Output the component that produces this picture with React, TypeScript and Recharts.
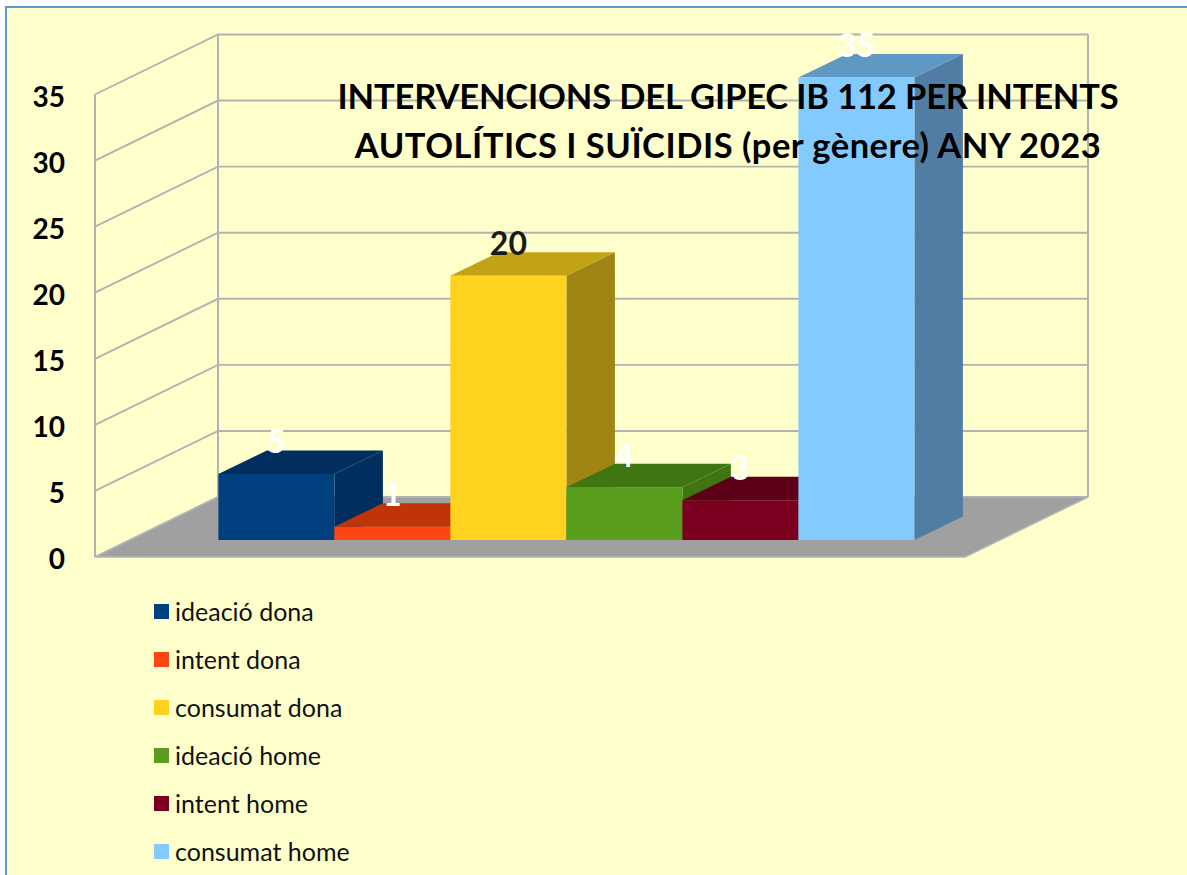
import React from 'react';
import { BarChart, Bar, XAxis, YAxis, CartesianGrid, Legend, ReferenceArea } from 'recharts';

const categories = ['2023'];
const seriesNames = ['ideació dona', 'intent dona', 'consumat dona', 'ideació home', 'intent home', 'consumat home'];
const seriesValues = [5, 1, 20, 4, 3, 35];
const yTicks = [0, 5, 10, 15, 20, 25, 30, 35];
const titleLines = ['INTERVENCIONS DEL GIPEC IB 112 PER INTENTS', 'AUTOLÍTICS I SUÏCIDIS (per gènere) ANY 2023'];
const titleSpacing = [-0.15, 0.5];

const frontColors = ['#00407F', '#FF4611', '#FFD220', '#589D1B', '#7B0020', '#83CAFF'];
const topColors = ['#002E5E', '#C03507', '#C3A316', '#3F7611', '#5E0018', '#5F98C2'];
const sideColors = ['#002E5E', '#C03507', '#A08515', '#3F7611', '#5E0018', '#527DA3'];
const labelColors = ['#FFFFFF', '#FFFFFF', '#1A1A1A', '#FFFFFF', '#FFFFFF', '#FFFFFF'];

const FONT = 'Lato, sans-serif';
const WALL = '#B2B2B2';
// perspective of the box: wall depth, and where the bars stand on the floor
const WALL_DX = 123;
const WALL_DY = -60;
const BAR_DX = 37;
const BAR_DY = -17;
const DEPTH_X = 48.5;
const DEPTH_Y = -23.5;

const chartData = categories.map((name) => {
  const row: Record<string, string | number> = { name };
  seriesNames.forEach((s, i) => {
    row[s] = seriesValues[i];
  });
  return row;
});

function WallLine(props: any) {
  const { x1, y1, x2, y2 } = props;
  return (
    <polyline
      points={`${x1},${y1} ${x1 + WALL_DX},${y1 + WALL_DY} ${x2 + WALL_DX},${y2 + WALL_DY}`}
      fill="none"
      stroke={WALL}
      strokeWidth={1.9}
    />
  );
}

function Box(props: any) {
  const { x, y, width, height } = props;
  const left = x;
  const right = x + width;
  const top = y;
  const bottom = y + height;
  return (
    <g>
      {/* left wall and back wall edges */}
      <line x1={left} y1={top} x2={left} y2={bottom} stroke={WALL} strokeWidth={2} />
      <line x1={left + WALL_DX} y1={top + WALL_DY} x2={left + WALL_DX} y2={bottom + WALL_DY} stroke={WALL} strokeWidth={2} />
      <line x1={right + WALL_DX} y1={top + WALL_DY} x2={right + WALL_DX} y2={bottom + WALL_DY} stroke={WALL} strokeWidth={2} />
      {/* floor */}
      <polygon
        points={`${left},${bottom} ${right},${bottom} ${right + WALL_DX},${bottom + WALL_DY} ${left + WALL_DX},${bottom + WALL_DY}`}
        fill="#A0A0A0"
        stroke="#B4B4B4"
        strokeWidth={1.5}
      />
    </g>
  );
}

function makeBarShape(i: number) {
  return function BarShape(props: any) {
    const { x, y, width, height } = props;
    const l = x + BAR_DX;
    const r = l + width;
    const t = y + BAR_DY;
    const b = t + height;
    return (
      <g>
        <polygon
          points={`${r},${t} ${r + DEPTH_X},${t + DEPTH_Y} ${r + DEPTH_X},${b + DEPTH_Y} ${r},${b}`}
          fill={sideColors[i]}
        />
        <polygon
          points={`${l},${t} ${r},${t} ${r + DEPTH_X},${t + DEPTH_Y} ${l + DEPTH_X},${t + DEPTH_Y}`}
          fill={topColors[i]}
        />
        <rect x={l} y={t} width={width} height={height} fill={frontColors[i]} />
      </g>
    );
  };
}

function makeBarLabel(i: number) {
  return function BarLabel(props: any) {
    const { x, y, width, value } = props;
    return (
      <text
        x={x + BAR_DX + width / 2}
        y={y + BAR_DY - 33}
        textAnchor="middle"
        dominantBaseline="central"
        fontFamily={FONT}
        fontWeight={700}
        fontSize={32}
        fill={labelColors[i]}
      >
        {value}
      </text>
    );
  };
}

function LegendList(props: any) {
  const { payload } = props;
  return (
    <div>
      {(payload || []).map((p: any) => (
        <div key={p.value} style={{ display: 'flex', alignItems: 'center', height: 48 }}>
          <span style={{ width: 15, height: 15, background: p.color, marginRight: 6, flex: 'none' }} />
          <span style={{ fontFamily: FONT, fontSize: 25, color: '#111', whiteSpace: 'nowrap' }}>{p.value}</span>
        </div>
      ))}
    </div>
  );
}

export default function App() {
  return (
    <div style={{ position: 'absolute', left: 0, top: 0, width: 1187, height: 875, background: '#fff', overflow: 'hidden' }}>
      <div
        style={{
          position: 'absolute',
          left: 5,
          top: 6,
          width: 1182,
          height: 869,
          background: '#FFFFCC',
          borderLeft: '2px solid #5B9BD5',
          borderTop: '2px solid #5B9BD5',
          boxSizing: 'border-box',
        }}
      />
      <div style={{ position: 'absolute', left: 0, top: 0 }}>
        <BarChart
          width={1187}
          height={875}
          data={chartData}
          barCategoryGap={86.4}
          barGap={0}
          margin={{ top: 94.5, right: 222, bottom: 318, left: 0 }}
        >
          <CartesianGrid horizontal={(p: any) => <WallLine key={p.key} {...p} />} vertical={false} />
          <XAxis dataKey="name" hide />
          <YAxis
            width={95}
            domain={[0, 35]}
            ticks={yTicks}
            interval={0}
            axisLine={false}
            tickLine={false}
            tickMargin={24}
            tick={{ fontFamily: FONT, fontWeight: 700, fontSize: 28, fill: '#000', dy: 2.5 }}
          />
          <ReferenceArea y1={0} y2={35} shape={(p: any) => <Box {...p} />} ifOverflow="visible" />
          {seriesNames.map((s, i) => (
            <Bar
              key={s}
              dataKey={s}
              fill={frontColors[i]}
              isAnimationActive={false}
              shape={makeBarShape(i)}
              label={makeBarLabel(i)}
            />
          ))}
          <Legend
            layout="vertical"
            align="center"
            verticalAlign="middle"
            itemSorter={null}
            content={<LegendList />}
            wrapperStyle={{ left: 154, top: 587, width: 300, height: 288 }}
          />
        </BarChart>
      </div>
      <div
        style={{
          position: 'absolute',
          left: 228,
          top: 71,
          width: 1000,
          textAlign: 'center',
          fontFamily: FONT,
          fontWeight: 700,
          fontSize: 34.5,
          lineHeight: '49px',
          color: '#000',
          whiteSpace: 'nowrap',
        }}
      >
        {titleLines.map((t, i) => (
          <div key={t} style={{ letterSpacing: titleSpacing[i] }}>
            {t}
          </div>
        ))}
      </div>
    </div>
  );
}
